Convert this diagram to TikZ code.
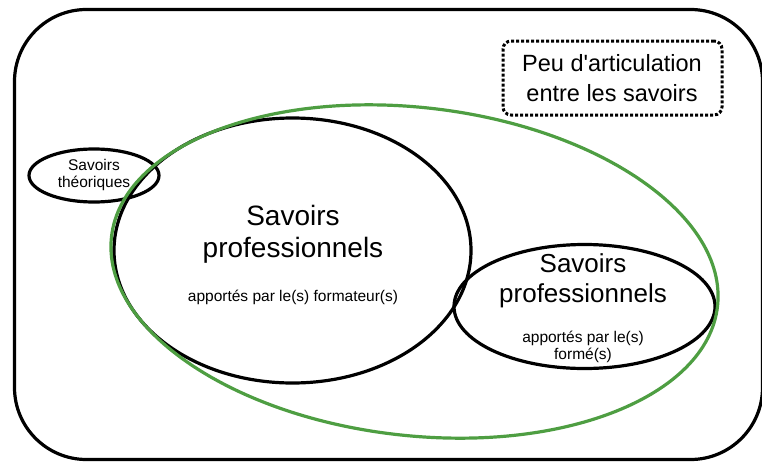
\documentclass[tikz,border=0pt]{standalone}
\usepackage{fontspec}
\setmainfont{Liberation Sans}
\usetikzlibrary{shapes.geometric}
\definecolor{vert}{RGB}{78,158,66}
\tikzset{
  blob/.style={draw=black, line width=3.2pt, ellipse, inner sep=0pt},
  bigtxt/.style={font=\fontsize{28}{32}\selectfont, align=center, inner sep=0pt},
  smalltxt/.style={font=\fontsize{15.5}{17}\selectfont, align=center, inner sep=0pt},
}
\begin{document}
\begin{tikzpicture}[x=1pt,y=1pt]
\useasboundingbox (0,0) rectangle (762,-463);
\draw[line width=3.2pt, rounded corners=72pt] (14.5,-9.5) rectangle (762.5,-459.5);
% dotted box
\node[draw, line width=3pt, dotted, rounded corners=8pt, minimum width=219pt, minimum height=74pt, inner sep=0pt] (box) at (612.5,-78) {};
\node[font=\fontsize{23.5}{30}\selectfont, align=center, inner sep=0pt] (boxt) at (612,-78) {Peu d\textquotesingle articulation\\entre les savoirs};
% ellipses
\node[blob, minimum width=130pt, minimum height=53pt] (theo) at (94,-175.5) {};
\node[blob, minimum width=357pt, minimum height=265pt] (big) at (292.5,-250.5) {};
\node[blob, minimum width=261pt, minimum height=124pt] (right) at (584.5,-306.5) {};
\node[draw=vert, line width=3.2pt, ellipse, inner sep=0pt, minimum width=610pt, minimum height=328pt, rotate=-6.6] (green) at (414.5,-271.5) {};
% texts
\node[smalltxt] (theot) at (94,-175) {Savoirs\\théoriques};
\node[bigtxt] (bigt) at (293,-234) {Savoirs\\professionnels};
\node[smalltxt] (bigs) at (293,-297) {apportés par le(s) formateur(s)};
\node[font=\fontsize{26}{30}\selectfont, align=center, inner sep=0pt] (rightt) at (583,-281) {Savoirs\\professionnels};
\node[smalltxt] (rights) at (583,-346.5) {apportés par le(s)\\formé(s)};
\end{tikzpicture}
\end{document}
